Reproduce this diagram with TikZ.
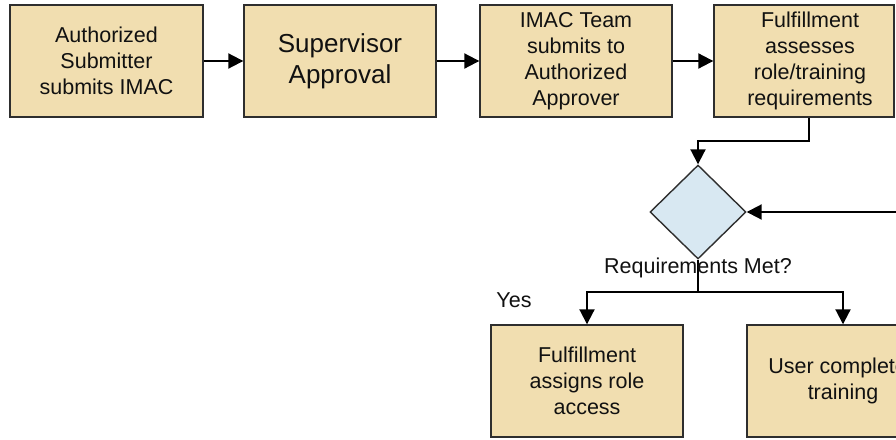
\documentclass[tikz,border=0pt]{standalone}
\usepackage{fontspec}
\setmainfont{Liberation Sans}
\usetikzlibrary{arrows.meta,shapes.geometric,calc}
\definecolor{boxfill}{HTML}{F1DEB0}
\definecolor{boxline}{HTML}{2E2E2E}
\definecolor{diafill}{HTML}{D8E8F2}
\definecolor{txt}{HTML}{111111}
\tikzset{
  procbox/.style={draw=boxline, line width=1.4pt, fill=boxfill, minimum height=112pt,
    inner sep=0pt, align=center, text=txt, font=\fontsize{21.5}{26}\selectfont},
  decbox/.style={draw=boxline, line width=1.4pt, fill=diafill, shape=diamond,
    minimum width=96pt, minimum height=94pt, inner sep=0pt},
  arr/.style={draw=black, line width=2pt, -{Triangle[length=15pt,width=15pt]}},
  lbl/.style={text=txt, font=\fontsize{21.5}{24}\selectfont, inner sep=0pt}
}
\begin{document}
\begin{tikzpicture}[x=1pt,y=-1pt]
\useasboundingbox (0,0) rectangle (896,439);
\clip (0,0) rectangle (896,439);
\fill[white] (0,0) rectangle (896,439);
\node[procbox, minimum width=193pt] (b1) at (106.5,61) {Authorized\\Submitter\\submits IMAC};
\node[procbox, minimum width=192pt, font=\fontsize{26}{31}\selectfont] (b2) at (340,61) {Supervisor\\Approval};
\node[procbox, minimum width=192pt] (b3) at (576,61) {IMAC Team\\submits to\\Authorized\\Approver};
\node[procbox, minimum width=180pt] (b4) at (804,61) {\hspace*{12pt}Fulfillment\\\hspace*{12pt}assesses\\\hspace*{12pt}role/training\\\hspace*{12pt}requirements};
\node[decbox] (dia) at (698,212) {};
\node[procbox, minimum width=192pt] (b5) at (587,381) {Fulfillment\\assigns role\\access};
\node[procbox, minimum width=192pt] (b6) at (843,381) {User completes\\training};
\coordinate (rin) at (930,212);
\coordinate (b4out) at ($(b4.south)+(5,0)$);
\coordinate (split) at (698,292);
\draw[arr] (b1.east) -- (b2.west);
\draw[arr] (b2.east) -- (b3.west);
\draw[arr] (b3.east) -- (b4.west);
\draw[arr] (b4out) |- (698,141) -- (dia.north);
\draw[arr] (rin) -- (dia.east);
\draw[line width=2pt] (dia.south) -- (split);
\draw[arr] (split) -| (b5.north);
\draw[arr] (split) -| (b6.north);
\node[lbl] (q) at (698,268) {Requirements Met?};
\node[lbl] (yes) at (514,300) {Yes};
\end{tikzpicture}
\end{document}
